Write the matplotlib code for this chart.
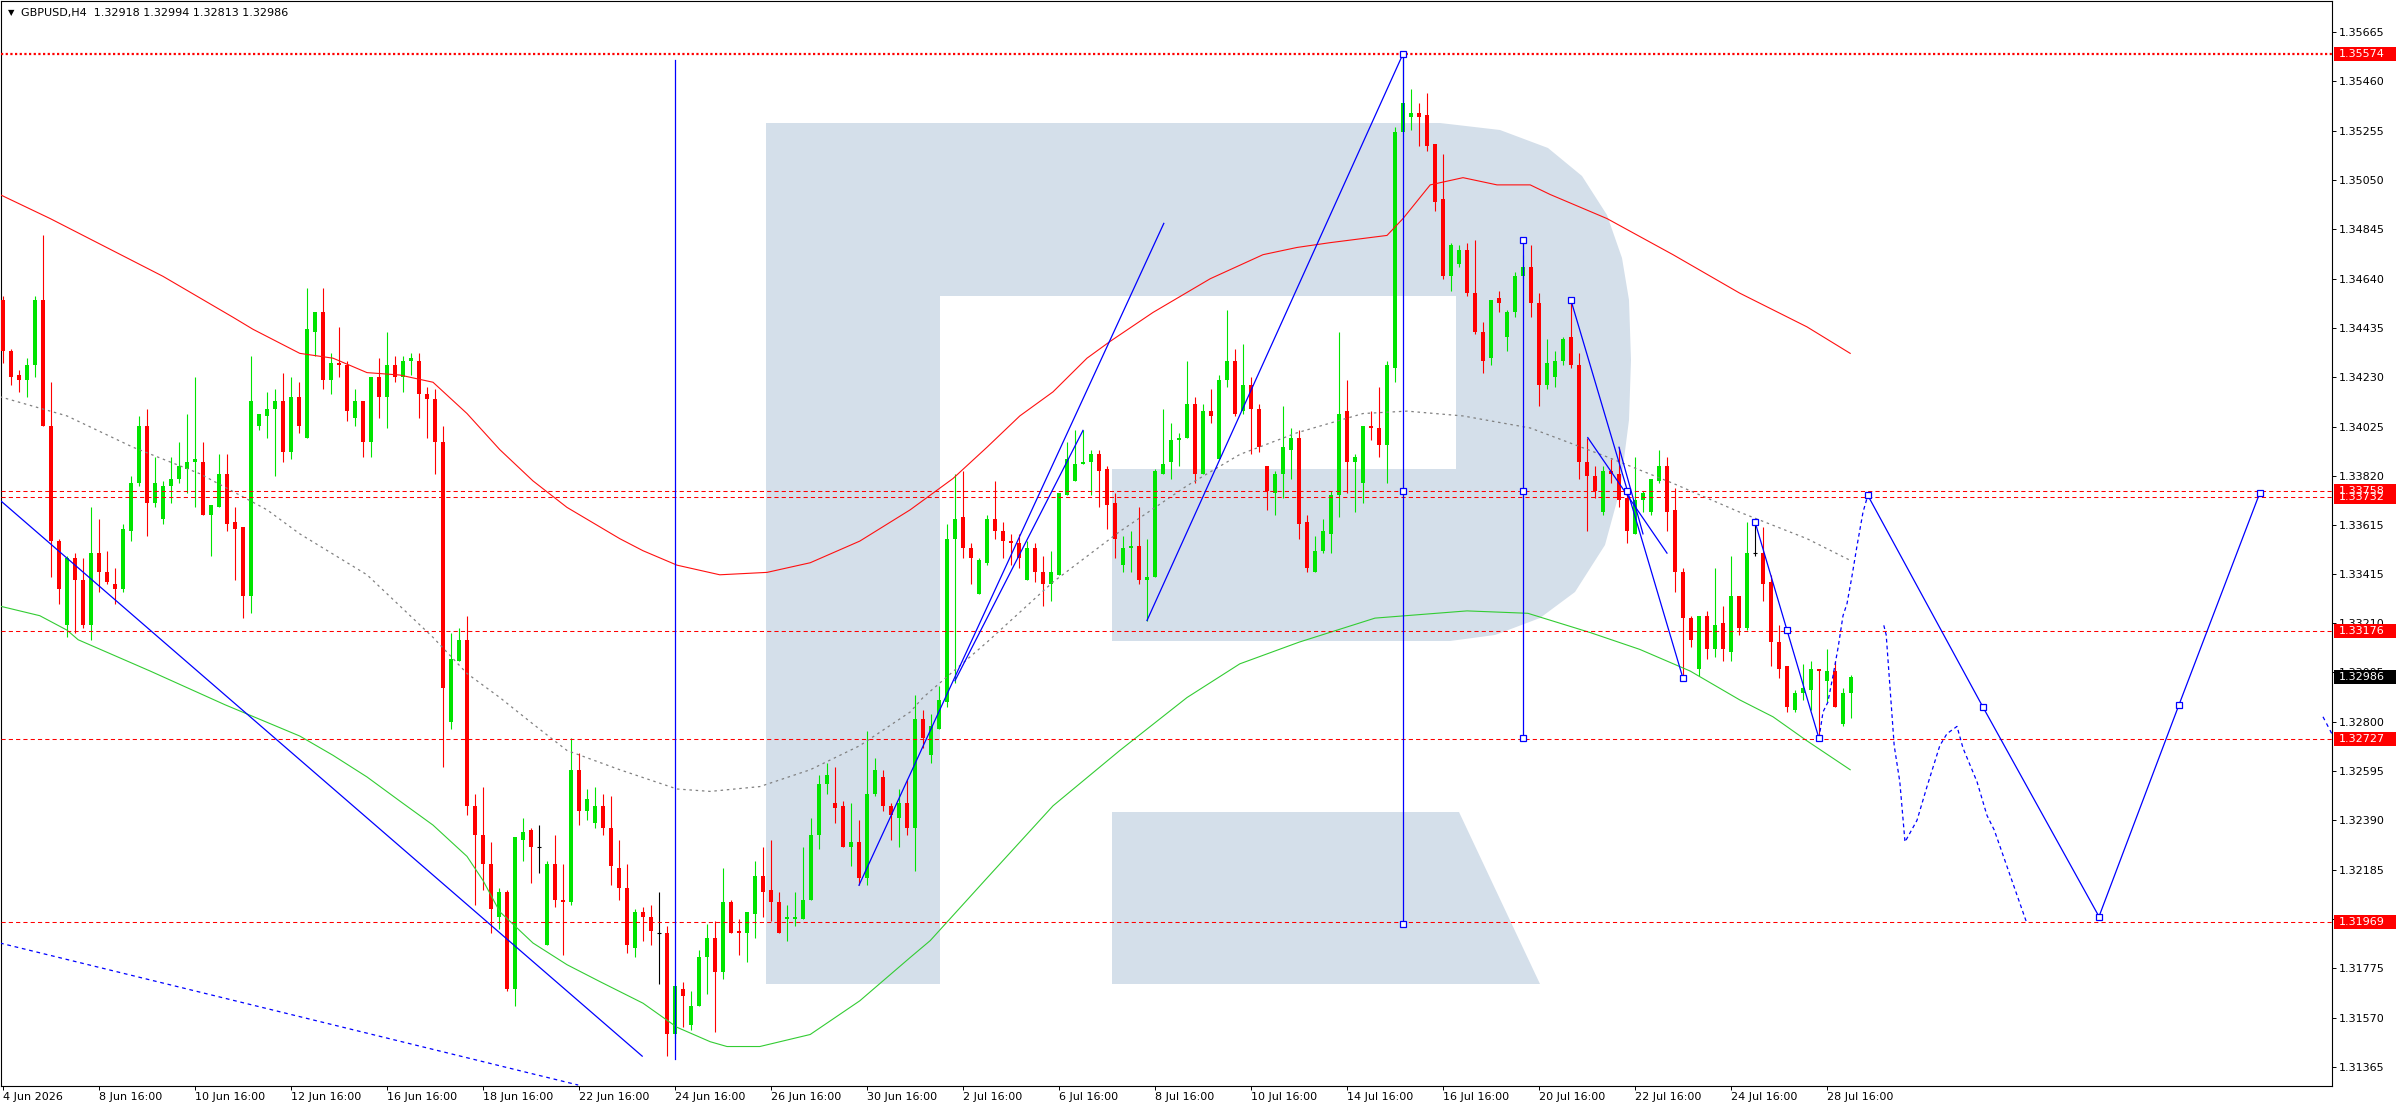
"""GBPUSD H4 chart with MAs, wave markup and forecast."""
import numpy as np
import matplotlib
matplotlib.use('Agg')
import matplotlib.pyplot as plt
from matplotlib.patches import Rectangle, Polygon
from matplotlib.transforms import Affine2D, blended_transform_factory

plt.rcParams['font.family'] = ['DejaVu Sans']

# ---- candles (bar 0 = 4 Jun 16:00, H4) ----
opens = [1.3455, 1.3434, 1.3424, 1.3422, 1.3428, 1.3455, 1.3403, 1.3355, 1.3320, 1.3348,
         1.3339, 1.3320, 1.3350, 1.3342, 1.3337, 1.3335, 1.3359, 1.3379, 1.3403, 1.3371,
         1.3364, 1.3378, 1.3381, 1.3385, 1.3388, 1.3388, 1.3366, 1.3369, 1.3383, 1.3363,
         1.3361, 1.3332, 1.3403, 1.3407, 1.3410, 1.3413, 1.3392, 1.3415, 1.3398, 1.3442,
         1.3450, 1.3422, 1.3429, 1.3428, 1.3406, 1.3413, 1.3396, 1.3423, 1.3415, 1.3428,
         1.3423, 1.3430, 1.3430, 1.3416, 1.3414, 1.3396, 1.3280, 1.3305, 1.3314, 1.3245,
         1.3233, 1.3221, 1.3199, 1.3209, 1.3169, 1.3231, 1.3235, 1.3228, 1.3187, 1.3221,
         1.3206, 1.3205, 1.3260, 1.3243, 1.3238, 1.3245, 1.3236, 1.3219, 1.3211, 1.3186,
         1.3201, 1.3199, 1.3192, 1.3192, 1.3150, 1.3169, 1.3154, 1.3162, 1.3182, 1.3190,
         1.3176, 1.3205, 1.3193, 1.3192, 1.3200, 1.3216, 1.3210, 1.3205, 1.3198, 1.3198,
         1.3198, 1.3206, 1.3233, 1.3254, 1.3246, 1.3245, 1.3228, 1.3230, 1.3215, 1.3250,
         1.3257, 1.3245, 1.3240, 1.3246, 1.3236, 1.3281, 1.3266, 1.3277, 1.3288, 1.3356,
         1.3365, 1.3352, 1.3333, 1.3346, 1.3364, 1.3359, 1.3355, 1.3354, 1.3339, 1.3352,
         1.3342, 1.3337, 1.3341, 1.3374, 1.3380, 1.3387, 1.3388, 1.3391, 1.3385, 1.3371,
         1.3345, 1.3352, 1.3353, 1.3339, 1.3340, 1.3383, 1.3388, 1.3397, 1.3398, 1.3412,
         1.3383, 1.3409, 1.3389, 1.3422, 1.3430, 1.3409, 1.3420, 1.3410, 1.3386, 1.3375,
         1.3383, 1.3393, 1.3398, 1.3363, 1.3342, 1.3351, 1.3358, 1.3374, 1.3409, 1.3388,
         1.3379, 1.3403, 1.3402, 1.3395, 1.3427, 1.3525, 1.3531, 1.3533, 1.3532, 1.3520,
         1.3497, 1.3465, 1.3470, 1.3476, 1.3458, 1.3442, 1.3431, 1.3456, 1.3440, 1.3450,
         1.3465, 1.3469, 1.3454, 1.3420, 1.3423, 1.3430, 1.3440, 1.3428, 1.3388, 1.3382,
         1.3367, 1.3384, 1.3383, 1.3373, 1.3358, 1.3372, 1.3367, 1.3380, 1.3386, 1.3368,
         1.3342, 1.3323, 1.3302, 1.3324, 1.3310, 1.3321, 1.3309, 1.3332, 1.3319, 1.3350,
         1.3350, 1.3338, 1.3313, 1.3303, 1.3285, 1.3292, 1.3293, 1.3302, 1.3297, 1.3301,
         1.3279, 1.32918]
highs = [1.3457, 1.3435, 1.3426, 1.3431, 1.3457, 1.3482, 1.3421, 1.3356, 1.3349, 1.3350,
         1.3348, 1.3369, 1.3364, 1.3351, 1.3344, 1.3362, 1.3382, 1.3407, 1.3410, 1.3390,
         1.3380, 1.3390, 1.3396, 1.3408, 1.3423, 1.3396, 1.3370, 1.3391, 1.3391, 1.3369,
         1.3361, 1.3432, 1.3408, 1.3417, 1.3418, 1.3425, 1.3423, 1.3421, 1.3460, 1.3450,
         1.3460, 1.3433, 1.3444, 1.3430, 1.3418, 1.3413, 1.3423, 1.3431, 1.3442, 1.3432,
         1.3432, 1.3433, 1.3433, 1.3419, 1.3418, 1.3403, 1.3317, 1.3319, 1.3324, 1.3250,
         1.3253, 1.3230, 1.3211, 1.3210, 1.3232, 1.3240, 1.3236, 1.3237, 1.3222, 1.3233,
         1.3221, 1.3273, 1.3267, 1.3252, 1.3253, 1.3250, 1.3249, 1.3231, 1.3221, 1.3202,
         1.3203, 1.3204, 1.3209, 1.3195, 1.3170, 1.3172, 1.3168, 1.3185, 1.3196, 1.3197,
         1.3219, 1.3206, 1.3198, 1.3201, 1.3222, 1.3228, 1.3231, 1.3209, 1.3204, 1.3209,
         1.3228, 1.3240, 1.3258, 1.3263, 1.3261, 1.3247, 1.3246, 1.3239, 1.3276, 1.3265,
         1.3260, 1.3246, 1.3252, 1.3256, 1.3291, 1.3285, 1.3283, 1.3295, 1.3362, 1.3383,
         1.3384, 1.3354, 1.3348, 1.3366, 1.3380, 1.3363, 1.3358, 1.3358, 1.3355, 1.3354,
         1.3349, 1.3351, 1.3375, 1.3396, 1.3401, 1.3401, 1.3393, 1.3393, 1.3386, 1.3375,
         1.3357, 1.3359, 1.3369, 1.3356, 1.3385, 1.3410, 1.3404, 1.3400, 1.3430, 1.3415,
         1.3412, 1.3418, 1.3424, 1.3451, 1.3435, 1.3437, 1.3423, 1.3412, 1.3386, 1.3384,
         1.3411, 1.3402, 1.3401, 1.3366, 1.3357, 1.3364, 1.3376, 1.3442, 1.3422, 1.3391,
         1.3403, 1.3409, 1.3419, 1.3430, 1.3527, 1.35574, 1.3543, 1.3537, 1.3541, 1.3520,
         1.3516, 1.3479, 1.3478, 1.3479, 1.3480, 1.3446, 1.3455, 1.3459, 1.3451, 1.3467,
         1.3474, 1.3478, 1.3458, 1.3439, 1.3434, 1.3440, 1.3455, 1.3433, 1.3398, 1.3386,
         1.3386, 1.3389, 1.3394, 1.3376, 1.3390, 1.3376, 1.3381, 1.3393, 1.3390, 1.3377,
         1.3344, 1.3324, 1.3324, 1.3326, 1.3344, 1.3328, 1.3349, 1.3332, 1.3363, 1.3363,
         1.3361, 1.3341, 1.3320, 1.3303, 1.3293, 1.3304, 1.3305, 1.3302, 1.3310, 1.3305,
         1.3294, 1.32994]
lows = [1.3429, 1.3420, 1.3417, 1.3415, 1.3423, 1.3403, 1.3340, 1.3329, 1.3315, 1.3317,
        1.3319, 1.3314, 1.3334, 1.3337, 1.3329, 1.3334, 1.3355, 1.3378, 1.3357, 1.3369,
        1.3362, 1.3371, 1.3379, 1.3375, 1.3369, 1.3366, 1.3349, 1.3369, 1.3359, 1.3339,
        1.3323, 1.3325, 1.3401, 1.3398, 1.3382, 1.3388, 1.3389, 1.3400, 1.3398, 1.3432,
        1.3418, 1.3416, 1.3423, 1.3405, 1.3403, 1.3390, 1.3390, 1.3406, 1.3402, 1.3421,
        1.3417, 1.3424, 1.3406, 1.3398, 1.3383, 1.3261, 1.3277, 1.3305, 1.3241, 1.3204,
        1.3210, 1.3192, 1.3194, 1.3168, 1.3162, 1.3222, 1.3213, 1.3217, 1.3187, 1.3203,
        1.3183, 1.3204, 1.3237, 1.3239, 1.3236, 1.3233, 1.3212, 1.3206, 1.3184, 1.3182,
        1.3189, 1.3187, 1.3171, 1.3141, 1.3148, 1.3153, 1.3152, 1.3162, 1.3167, 1.3151,
        1.3173, 1.3192, 1.3183, 1.3180, 1.3190, 1.3199, 1.3197, 1.3192, 1.3189, 1.3195,
        1.3198, 1.3206, 1.3227, 1.3250, 1.3238, 1.3228, 1.3220, 1.3212, 1.3212, 1.3249,
        1.3243, 1.3231, 1.3228, 1.3233, 1.3218, 1.3269, 1.3263, 1.3277, 1.3286, 1.3296,
        1.3348, 1.3337, 1.3333, 1.3345, 1.3356, 1.3348, 1.3345, 1.3344, 1.3339, 1.3338,
        1.3328, 1.3330, 1.3341, 1.3374, 1.3380, 1.3387, 1.3374, 1.3369, 1.3360, 1.3348,
        1.3342, 1.3342, 1.3337, 1.3322, 1.3340, 1.3383, 1.3381, 1.3386, 1.3398, 1.3379,
        1.3383, 1.3404, 1.3389, 1.3419, 1.3407, 1.3408, 1.3391, 1.3392, 1.3368, 1.3366,
        1.3373, 1.3381, 1.3356, 1.3342, 1.3342, 1.3350, 1.3350, 1.3365, 1.3375, 1.3367,
        1.3371, 1.3397, 1.3390, 1.3379, 1.3421, 1.3525, 1.3526, 1.3519, 1.3517, 1.3492,
        1.3464, 1.3459, 1.3469, 1.3457, 1.3441, 1.3425, 1.3428, 1.3450, 1.3434, 1.3448,
        1.3464, 1.3448, 1.3411, 1.3418, 1.3419, 1.3428, 1.3427, 1.3381, 1.3359, 1.3373,
        1.3366, 1.3379, 1.3369, 1.3354, 1.3358, 1.3367, 1.3366, 1.3379, 1.3359, 1.3334,
        1.3298, 1.3311, 1.3299, 1.3306, 1.3307, 1.3305, 1.3305, 1.3316, 1.3318, 1.3349,
        1.3330, 1.3303, 1.3298, 1.3284, 1.3284, 1.3289, 1.3285, 1.32727, 1.3288, 1.3286,
        1.3278, 1.32813]
closes = [1.3434, 1.3423, 1.3422, 1.3428, 1.3455, 1.3403, 1.3355, 1.3335, 1.3348, 1.3339,
          1.3320, 1.3350, 1.3342, 1.3338, 1.3335, 1.3360, 1.3379, 1.3403, 1.3371, 1.3379,
          1.3378, 1.3381, 1.3386, 1.3388, 1.3389, 1.3366, 1.3370, 1.3383, 1.3362, 1.3360,
          1.3332, 1.3413, 1.3408, 1.3410, 1.3413, 1.3392, 1.3415, 1.3403, 1.3443, 1.3450,
          1.3422, 1.3429, 1.3428, 1.3409, 1.3413, 1.3396, 1.3423, 1.3415, 1.3428, 1.3423,
          1.3430, 1.3431, 1.3416, 1.3414, 1.3396, 1.3294, 1.3306, 1.3314, 1.3245, 1.3233,
          1.3221, 1.3202, 1.3209, 1.3169, 1.3232, 1.3234, 1.3228, 1.3228, 1.3221, 1.3206,
          1.3205, 1.3260, 1.3243, 1.3248, 1.3245, 1.3236, 1.3220, 1.3211, 1.3187, 1.3201,
          1.3199, 1.3193, 1.3192, 1.3150, 1.3170, 1.3166, 1.3162, 1.3182, 1.3190, 1.3176,
          1.3205, 1.3192, 1.3192, 1.3201, 1.3216, 1.3209, 1.3205, 1.3192, 1.3199, 1.3199,
          1.3206, 1.3233, 1.3254, 1.3258, 1.3244, 1.3228, 1.3230, 1.3215, 1.3250, 1.3260,
          1.3245, 1.3241, 1.3246, 1.3236, 1.3281, 1.3273, 1.3278, 1.3289, 1.3356, 1.3364,
          1.3352, 1.3348, 1.3347, 1.3364, 1.3359, 1.3355, 1.3354, 1.3348, 1.3352, 1.3342,
          1.3337, 1.3342, 1.3375, 1.3389, 1.3387, 1.3388, 1.3391, 1.3384, 1.3370, 1.3356,
          1.3352, 1.3353, 1.3339, 1.3340, 1.3384, 1.3387, 1.3397, 1.3398, 1.3412, 1.3383,
          1.3409, 1.3407, 1.3422, 1.3430, 1.3408, 1.3420, 1.3410, 1.3394, 1.3376, 1.3383,
          1.3394, 1.3398, 1.3362, 1.3344, 1.3351, 1.3359, 1.3374, 1.3408, 1.3388, 1.3390,
          1.3403, 1.3402, 1.3395, 1.3428, 1.3525, 1.3537, 1.3533, 1.3531, 1.3519, 1.3496,
          1.3465, 1.3478, 1.3476, 1.3458, 1.3442, 1.3430, 1.3455, 1.3454, 1.3450, 1.3465,
          1.3469, 1.3454, 1.3420, 1.3429, 1.3430, 1.3439, 1.3428, 1.3388, 1.3382, 1.3376,
          1.3384, 1.3383, 1.3372, 1.3359, 1.3372, 1.3375, 1.3381, 1.3386, 1.3367, 1.3342,
          1.3323, 1.3314, 1.3324, 1.3310, 1.3320, 1.3310, 1.3332, 1.3319, 1.3350, 1.3350,
          1.3337, 1.3313, 1.3302, 1.3286, 1.3292, 1.3294, 1.3302, 1.3301, 1.3301, 1.3286,
          1.3292, 1.32986]

# ---- moving averages, read at bar positions ----
red_ma_x = [-0.4, 5.9, 20, 28.75, 31.25, 37.1, 41.25, 45.5, 49.6, 53.75, 58, 62.1, 66.25,
            70.5, 77.1, 80, 84.25, 89.6, 95.5, 100.9, 107.1, 113.4, 118.75, 123, 127.1,
            131.25, 135.5, 138.4, 143.75, 150.9, 157.5, 161.75, 165.9, 173, 175, 178.4,
            182.5, 186.75, 190.9, 193.4, 200.5, 208.75, 217.1, 225.5, 230.9]
red_ma_y = [1.3499, 1.3489, 1.3465, 1.3448, 1.3443, 1.3433, 1.3431, 1.3425, 1.3424, 1.3421,
            1.3408, 1.3393, 1.3380, 1.3369, 1.3356, 1.3351, 1.3345, 1.3341, 1.3342, 1.3346,
            1.3355, 1.3368, 1.3381, 1.3394, 1.3407, 1.3417, 1.3431, 1.3438, 1.3450, 1.3464,
            1.3474, 1.3477, 1.3479, 1.3482, 1.3489, 1.3503, 1.3506, 1.3503, 1.3503, 1.3499,
            1.3489, 1.3474, 1.3458, 1.3444, 1.3433]
green_ma_x = [-0.4, 4.6, 8, 9.4, 18.4, 27.75, 37.1, 41.25, 45.5, 49.6, 53.75, 58, 60, 62.1,
              66.25, 70.5, 74.6, 80, 84.25, 88.4, 90.5, 94.6, 100.9, 107.1, 113.4, 115.9,
              123, 131.25, 139.6, 148, 154.6, 162, 171.5, 183, 190.6, 198.4, 204.6, 210.9,
              217.1, 221.25, 225.5, 230.9]
green_ma_y = [1.3328, 1.3324, 1.3318, 1.3314, 1.3301, 1.3287, 1.3274, 1.3266, 1.3257, 1.3247,
              1.3237, 1.3224, 1.3214, 1.3201, 1.3188, 1.3179, 1.3172, 1.3163, 1.3153, 1.3147,
              1.3145, 1.3145, 1.3150, 1.3164, 1.3182, 1.3189, 1.3215, 1.3245, 1.3268, 1.3290,
              1.3304, 1.3313, 1.3323, 1.3326, 1.3325, 1.3317, 1.3310, 1.3301, 1.3289, 1.3282,
              1.3272, 1.3260]
gray_ma_x = [-0.4, 8, 16.25, 24.6, 33, 37.1, 45.5, 53.75, 58, 62.1, 66.25, 70.5, 77.1, 84.25,
             88.4, 94.6, 100.9, 107.1, 113.4, 115, 123, 131.25, 139.6, 148, 154.6, 161.75,
             170, 175.5, 182.5, 190.9, 200.5, 208.75, 217.1, 225.5, 230.9]
gray_ma_y = [1.3415, 1.3407, 1.3394, 1.3383, 1.3368, 1.3358, 1.3341, 1.3315, 1.3300, 1.3290,
             1.3279, 1.3268, 1.3260, 1.3252, 1.3251, 1.3253, 1.3260, 1.3270, 1.3284, 1.3290,
             1.3313, 1.3338, 1.3359, 1.3378, 1.3391, 1.3400, 1.3408, 1.3409, 1.3407, 1.3402,
             1.3390, 1.3379, 1.3367, 1.3356, 1.3347]

# ---- horizontal levels ----
level_top = 1.35574
levels = [1.33758, 1.33732, 1.33176, 1.32727, 1.31969]
last_price = 1.32986

# ---- blue markup: segments (bar0, price0, bar1, price1) ----
solid_segments = [(-0.375, 1.3372, 79.9, 1.3141),
                  (84, 1.3555, 84, 1.3140),
                  (107, 1.3212, 145.1, 1.3487),
                  (119, 1.3297, 135, 1.3401),
                  (143, 1.3322, 175, 1.35574),
                  (175, 1.35574, 175, 1.3196),
                  (190, 1.3480, 190, 1.3273),
                  (196, 1.3455, 210, 1.3298),
                  (198.1, 1.3398, 208, 1.3350),
                  (202, 1.3394, 205, 1.3358),
                  (219, 1.3363, 227, 1.3273)]
dashed_segments = [(-0.375, 1.3188, 71.9, 1.3129),
                   (290, 1.3282, 291.1, 1.3275)]
forecast_x = [233.1, 247.5, 262, 272, 282.1]
forecast_y = [1.3374, 1.3286, 1.3199, 1.3287, 1.3375]
path1_x = [227, 227.5, 228.1, 228.75, 229.4, 230, 230.5, 231.1, 231.75, 232.5, 233.1]
path1_y = [1.3273, 1.3284, 1.3288, 1.3299, 1.3311, 1.3324, 1.3329, 1.3340, 1.3353, 1.3367, 1.3374]
path2_x = [235.1, 235.4, 235.9, 236.4, 237.1, 237.75, 239.25, 240.5, 242.1, 243, 244.25,
           245, 246.75, 248, 248.9, 252.9]
path2_y = [1.3320, 1.3316, 1.3293, 1.3270, 1.3255, 1.3230, 1.3239, 1.3253, 1.3270, 1.3275,
           1.3278, 1.3269, 1.3255, 1.3241, 1.3235, 1.3197]
marker_x = [175, 175, 175, 190, 190, 190, 196, 203, 210, 219, 223, 227] + forecast_x
marker_y = [1.35574, 1.3376, 1.3196, 1.3480, 1.3376, 1.3273, 1.3455, 1.3376, 1.3298,
            1.3363, 1.3318, 1.3273] + forecast_y

# ---- axes labels ----
ytick_vals = [1.35665, 1.35460, 1.35255, 1.35050, 1.34845, 1.34640, 1.34435, 1.34230,
              1.34025, 1.33820, 1.33615, 1.33415, 1.33210, 1.33005, 1.32800, 1.32595,
              1.32390, 1.32185, 1.31980, 1.31775, 1.31570, 1.31365]
date_bars = [0, 12, 24, 36, 48, 60, 72, 84, 96, 108, 120, 132, 144, 156, 168, 180, 192,
             204, 216, 228]
date_labels = ['4 Jun 2026', '8 Jun 16:00', '10 Jun 16:00', '12 Jun 16:00', '16 Jun 16:00',
               '18 Jun 16:00', '22 Jun 16:00', '24 Jun 16:00', '26 Jun 16:00', '30 Jun 16:00',
               '2 Jul 16:00', '6 Jul 16:00', '8 Jul 16:00', '10 Jul 16:00', '14 Jul 16:00',
               '16 Jul 16:00', '20 Jul 16:00', '22 Jul 16:00', '24 Jul 16:00', '28 Jul 16:00']

BULL = '#00e400'
BEAR = '#ff0000'
BLUE = '#0000ff'
LOGO = '#d4dfea'

W, H = 2396, 1110
fig = plt.figure(figsize=(W / 100, H / 100), dpi=100)
fig.patch.set_facecolor('white')
ax = fig.add_axes([1 / W, 24 / H, 2331 / W, 1085 / H])
ax.set_xlim(-0.25, 291.125)
ax.set_ylim(1.31286, 1.35794)

# watermark "R" in pixel space
pix = Affine2D().scale(1 / W, -1 / H).translate(0, 1) + fig.transFigure
stem = [(766, 123), (940, 123), (940, 984), (766, 984)]
bowl = [(940, 123), (1440, 123), (1500, 130), (1548, 148), (1582, 176), (1607, 215),
        (1622, 258), (1629, 300), (1631, 360), (1629, 420), (1620, 490), (1605, 545),
        (1575, 592), (1540, 618), (1495, 635), (1450, 641), (1112, 641), (1112, 469),
        (1456, 469), (1456, 296), (940, 296)]
leg = [(1112, 812), (1459, 812), (1540, 984), (1112, 984)]
for shape in (stem, bowl, leg):
    ax.add_patch(Polygon(shape, closed=True, transform=pix, facecolor=LOGO,
                         edgecolor='none', zorder=0))

# candles
o = np.array(opens)
hi = np.array(highs)
lo = np.array(lows)
c = np.array(closes)
x = np.arange(len(o))
up = c > o
dn = c < o
flat = c == o
wick_col = np.where(up, BULL, np.where(dn, BEAR, 'black'))
ax.vlines(x, lo, hi, colors=wick_col, lw=0.8, zorder=3)
ax.bar(x[up], (c - o)[up], bottom=o[up], width=0.62, color=BULL, lw=0, zorder=3)
ax.bar(x[dn], (c - o)[dn], bottom=o[dn], width=0.62, color=BEAR, lw=0, zorder=3)
ax.hlines(o[flat], x[flat] - 0.31, x[flat] + 0.31, colors='black', lw=0.8, zorder=3)

# moving averages
ax.plot(red_ma_x, red_ma_y, color='#ff1010', lw=0.8, zorder=4)
ax.plot(green_ma_x, green_ma_y, color='#33cc33', lw=0.8, zorder=4)
ax.plot(gray_ma_x, gray_ma_y, color='#808080', lw=0.9, ls=(0, (2, 3)), zorder=4)

# horizontal levels
ax.axhline(level_top, color=BEAR, lw=1.6, ls=(0, (1, 1.1)), zorder=5)
for p in levels:
    ax.axhline(p, color=BEAR, lw=0.75, ls=(0, (4, 3)), zorder=5)

# blue markup
for x0, y0, x1, y1 in solid_segments:
    ax.plot([x0, x1], [y0, y1], color=BLUE, lw=0.9, zorder=6)
for x0, y0, x1, y1 in dashed_segments:
    ax.plot([x0, x1], [y0, y1], color=BLUE, lw=0.9, ls=(0, (3, 3)), zorder=6)
ax.plot(forecast_x, forecast_y, color=BLUE, lw=0.9, zorder=6)
ax.plot(path1_x, path1_y, color=BLUE, lw=0.9, ls=(0, (3, 2.5)), zorder=6)
ax.plot(path2_x, path2_y, color=BLUE, lw=0.9, ls=(0, (3, 2.5)), zorder=6)
ax.plot(marker_x, marker_y, ls='none', marker='s', ms=4.5, mfc='white', mec=BLUE,
        mew=0.9, zorder=7)

# axes styling
for s in ax.spines.values():
    s.set_color('black')
    s.set_linewidth(0.8)
ax.yaxis.tick_right()
ax.set_yticks(ytick_vals)
ax.set_yticklabels([f'{v:.5f}' for v in ytick_vals])
ax.tick_params(axis='y', direction='out', length=3, width=0.7, pad=2, labelsize=8,
               colors='black')
ax.set_xticks(date_bars)
ax.set_xticklabels(date_labels, ha='left')
ax.tick_params(axis='x', direction='out', length=3, width=0.7, pad=1.5, labelsize=8,
               colors='black')

# price boxes on the right scale
tr = blended_transform_factory(fig.transFigure, ax.transData)
box_h = 14 / 24070
boxes = [(level_top, BEAR), (1.33732, BEAR), (1.33758, BEAR), (1.33176, BEAR),
         (1.32727, BEAR), (1.31969, BEAR), (last_price, 'black')]
for p, col in boxes:
    ax.add_patch(Rectangle((2334 / W, p - box_h / 2), 62 / W, box_h, transform=tr,
                           facecolor=col, edgecolor='none', clip_on=False, zorder=10))
    ax.text(2339 / W, p, f'{p:.5f}', transform=tr, color='white', fontsize=8,
            va='center', ha='left', clip_on=False, zorder=11)

# header
fig.text(8 / W, 1 - 13 / H, '\u25bc', fontsize=6, va='center', ha='left')
fig.text(21 / W, 1 - 13 / H, 'GBPUSD,H4  1.32918 1.32994 1.32813 1.32986',
         fontsize=8, va='center', ha='left')

fig.savefig('out.png', dpi=100, facecolor='white')
plt.close(fig)
